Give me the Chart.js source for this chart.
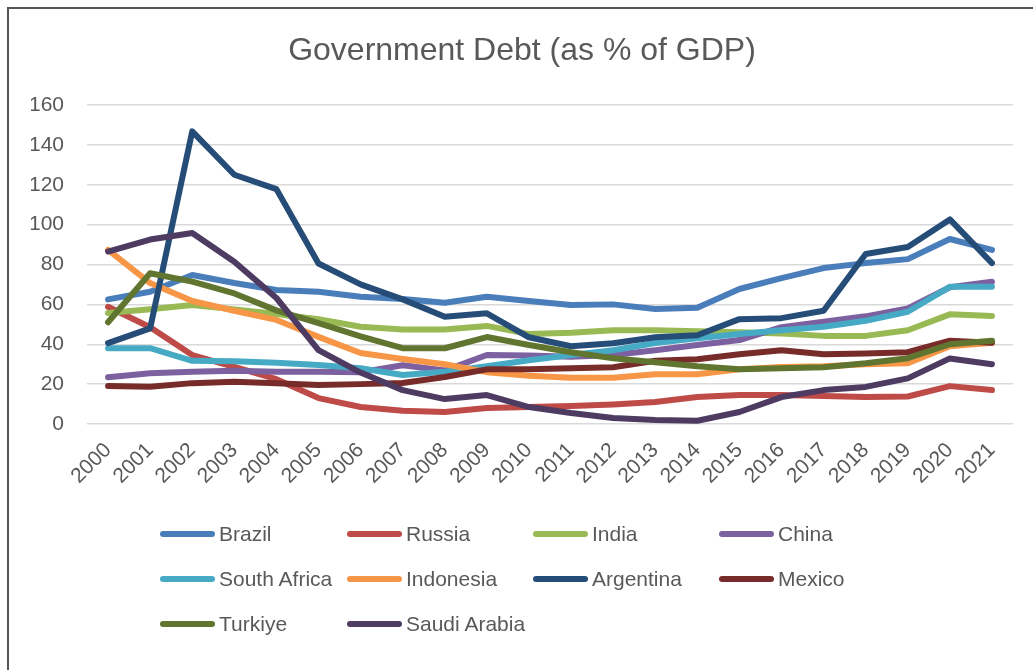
<!DOCTYPE html>
<html>
<head>
<meta charset="utf-8">
<script src="https://cdn.jsdelivr.net/npm/chart.js@4.4.1/dist/chart.umd.min.js"></script>
<style>
  html, body { margin: 0; padding: 0; background: #fff; }
  #wrap { position: relative; width: 1033px; height: 670px; overflow: hidden; }
  #frame { position: absolute; left: 7px; top: 7px; width: 1100px; height: 700px;
           border-left: 2px solid #555; border-top: 2px solid #555; pointer-events: none; }
  #legend { position: absolute; left: 0; top: 0; width: 1033px; height: 670px; pointer-events: none;
            font-family: "Liberation Sans", Arial, sans-serif; font-size: 21px; color: #595959; }
  .item { position: absolute; display: flex; align-items: center; height: 26px; white-space: nowrap; }
  .swatch { width: 55px; height: 6px; border-radius: 3px; margin-right: 4px; }
</style>
</head>
<body>
<div id="wrap">
  <canvas id="chart" width="1033" height="670"></canvas>
  <div id="frame"></div>
  <div id="legend"></div>
</div>
<script>
const years = ['2000','2001','2002','2003','2004','2005','2006','2007','2008','2009','2010',
               '2011','2012','2013','2014','2015','2016','2017','2018','2019','2020','2021'];

const brazil      = [62.5, 66.3, 74.7, 70.7, 67.2, 66.3, 63.8, 62.7, 60.8, 63.8, 61.7, 59.7, 60.0, 57.7, 58.3, 67.7, 73.2, 78.2, 80.7, 82.7, 92.8, 87.3];
const russia      = [58.8, 48.5, 34.6, 28.6, 22.5, 13.0, 8.5, 6.7, 6.0, 8.0, 8.5, 9.0, 9.8, 11.0, 13.5, 14.5, 14.5, 14.0, 13.5, 13.8, 19.0, 17.0];
const india       = [55.7, 57.5, 59.7, 57.5, 55.2, 52.5, 48.8, 47.4, 47.4, 49.2, 45.1, 45.8, 47.0, 47.0, 46.5, 46.0, 45.4, 44.2, 44.2, 47.0, 55.0, 54.2];
const china       = [23.5, 25.4, 26.2, 26.7, 26.2, 26.2, 26.0, 29.5, 26.8, 34.6, 34.4, 33.7, 34.6, 37.0, 39.6, 42.1, 48.6, 51.3, 54.0, 58.0, 68.6, 71.4];
const southAfrica = [38.0, 38.0, 31.7, 31.5, 30.7, 29.6, 28.0, 24.6, 26.2, 29.0, 32.0, 34.6, 37.0, 40.6, 43.0, 45.1, 47.0, 48.8, 51.8, 56.3, 68.8, 68.8];
const indonesia   = [87.3, 70.7, 61.7, 56.8, 52.2, 43.7, 35.6, 32.6, 30.0, 26.0, 24.2, 23.2, 23.2, 25.0, 25.0, 27.5, 28.6, 29.0, 30.0, 30.5, 39.0, 40.8];
const argentina   = [40.6, 48.0, 146.8, 125.0, 117.8, 80.5, 70.0, 62.5, 53.8, 55.5, 43.5, 39.0, 40.5, 43.5, 44.5, 52.6, 53.1, 56.8, 85.3, 88.8, 102.6, 80.7];
const mexico      = [19.0, 18.7, 20.5, 21.2, 20.5, 19.6, 20.0, 20.6, 23.6, 27.4, 27.4, 28.0, 28.5, 31.7, 32.5, 35.0, 37.0, 35.0, 35.3, 36.0, 41.8, 40.8];
const turkiye     = [51.0, 75.6, 71.4, 65.5, 57.0, 50.6, 44.0, 38.0, 38.0, 43.6, 39.6, 36.0, 33.0, 31.0, 29.0, 27.5, 28.0, 28.5, 30.5, 33.0, 40.0, 41.8];
const saudiArabia = [86.5, 92.5, 95.8, 81.4, 63.2, 37.1, 25.8, 17.0, 12.5, 14.5, 8.5, 5.5, 3.0, 2.0, 1.6, 6.0, 13.5, 17.0, 18.6, 22.9, 32.9, 30.0];

const countries = ['Brazil', 'Russia', 'India', 'China', 'South Africa', 'Indonesia', 'Argentina', 'Mexico', 'Turkiye', 'Saudi Arabia'];
const seriesValues = [brazil, russia, india, china, southAfrica, indonesia, argentina, mexico, turkiye, saudiArabia];
const colors = ['#4A7EBB', '#BE4B48', '#98B954', '#7D60A0', '#46AAC5', '#F79646', '#254D78', '#772C2A', '#5F7530', '#4D3B62'];

const FONT = '"Liberation Sans", Arial, sans-serif';
const GREY = '#595959';

const datasets = countries.map((name, i) => ({
  label: name,
  data: seriesValues[i],
  borderColor: colors[i],
  backgroundColor: colors[i],
  borderWidth: 6,
  pointRadius: 0,
  borderJoinStyle: 'round',
  borderCapStyle: 'round',
  tension: 0,
  order: countries.length - i // later series on top, like Excel
}));

const chart = new Chart(document.getElementById('chart'), {
  type: 'line',
  data: { labels: years, datasets },
  options: {
    responsive: false,
    animation: false,
    layout: { padding: { left: 31, right: 20, top: 0, bottom: 176 } },
    plugins: {
      legend: { display: false },
      tooltip: { enabled: false },
      title: {
        display: true,
        text: 'Government Debt (as % of GDP)',
        color: GREY,
        font: { family: FONT, size: 32, weight: 'normal', lineHeight: 1.2 },
        padding: { top: 32, bottom: 34.6 }
      }
    },
    scales: {
      x: {
        offset: true,
        grid: { display: false },
        border: { display: false },
        ticks: {
          color: GREY,
          font: { family: FONT, size: 21 },
          minRotation: 45,
          maxRotation: 45,
          padding: 6,
          autoSkip: false
        },
        afterFit: (scale) => { scale.height = 70; }
      },
      y: {
        min: 0,
        max: 160,
        grid: { color: '#D9D9D9', lineWidth: 1.5, drawTicks: false },
        border: { display: false },
        ticks: {
          stepSize: 20,
          color: GREY,
          font: { family: FONT, size: 21 },
          padding: 23
        },
        afterFit: (scale) => { scale.width = 56; }
      }
    }
  }
});

// legend laid out in Excel-like columns
const legendEl = document.getElementById('legend');
const colX = [160, 347, 533, 719];
const rowY = [534, 579, 624];
countries.forEach((name, i) => {
  const item = document.createElement('div');
  item.className = 'item';
  item.style.left = colX[i % 4] + 'px';
  item.style.top = (rowY[Math.floor(i / 4)] - 13) + 'px';
  const sw = document.createElement('span');
  sw.className = 'swatch';
  sw.style.background = colors[i];
  const txt = document.createElement('span');
  txt.textContent = name;
  item.appendChild(sw);
  item.appendChild(txt);
  legendEl.appendChild(item);
});
</script>
</body>
</html>
